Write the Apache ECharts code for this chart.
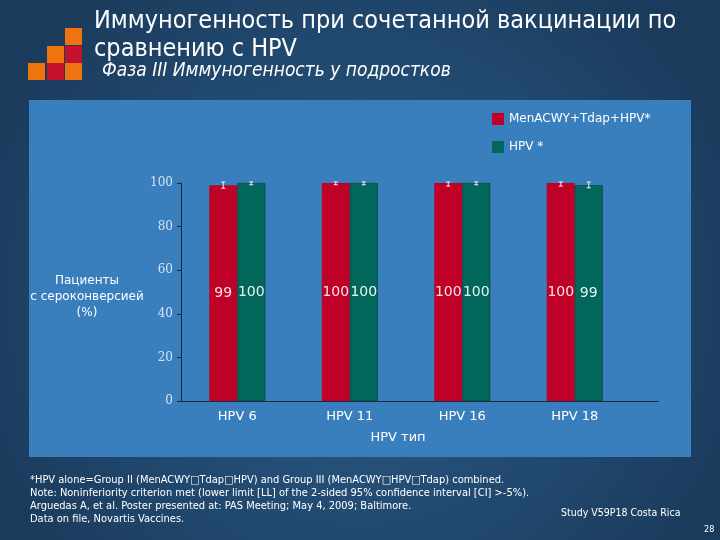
<!DOCTYPE html>
<html><head><meta charset="utf-8">
<script src="https://cdn.jsdelivr.net/npm/echarts@6/dist/echarts.min.js"></script>
<style>html,body{margin:0;padding:0;background:#1f4468}#c{width:720px;height:540px}</style>
</head><body><div id="c"></div>
<script>
const categories = ['HPV 6', 'HPV 11', 'HPV 16', 'HPV 18'];
const seriesNames = ['MenACWY+Tdap+HPV*', 'HPV *'];
const combined = [99, 100, 100, 100];
const hpvAlone = [100, 100, 100, 99];
const combinedLow = [97.6, 99.2, 98.6, 98.6];
const combinedHigh = [100, 100, 100, 100];
const hpvLow = [99.2, 99.2, 99.2, 97.8];
const hpvHigh = [100, 100, 100, 100];
const yTicks = [0, 20, 40, 60, 80, 100];

const titleFont = '"DejaVu Sans Condensed","DejaVu Sans",sans-serif';
const chart = echarts.init(document.getElementById('c'));

function errSeries(low, high, offset) {
  return {
    type: 'custom', z: 10, silent: true,
    data: low.map((l, i) => [i, l, high[i]]),
    renderItem: function (params, api) {
      const p1 = api.coord([api.value(0), api.value(1)]);
      const p2 = api.coord([api.value(0), api.value(2)]);
      const x = p1[0] + offset;
      const st = { stroke: '#f2f2f2', lineWidth: 1 };
      return { type: 'group', children: [
        { type: 'line', shape: { x1: x, y1: p1[1], x2: x, y2: p2[1] - 1 }, style: st },
        { type: 'line', shape: { x1: x - 2, y1: p1[1], x2: x + 2, y2: p1[1] }, style: st },
        { type: 'line', shape: { x1: x - 2, y1: p2[1] - 1, x2: x + 2, y2: p2[1] - 1 }, style: st }
      ]};
    }
  };
}

const sq = (x, y, c) => ({ type: 'rect', shape: { x: x, y: y, width: 17, height: 17 }, style: { fill: c } });
const ORG = '#ef7410', RED = '#c4122e';

chart.setOption({
  animation: false,
  backgroundColor: {
    type: 'radial', x: 0.5, y: 0.55, r: 0.75,
    colorStops: [{ offset: 0, color: '#2b5e8c' }, { offset: 1, color: '#1b3b5c' }]
  },
  graphic: [
    { type: 'rect', z: -10, shape: { x: 29, y: 100, width: 662, height: 357 }, style: { fill: '#3a7fbd' } },
    sq(65, 28, ORG), sq(47, 46, ORG), sq(65, 46, RED), sq(28, 63, ORG), sq(47, 63, RED), sq(65, 63, ORG),
    { type: 'text', left: 94, top: 7, style: { text: 'Иммуногенность при сочетанной вакцинации по\nсравнению с HPV', fill: '#ffffff', font: '25px ' + titleFont, lineHeight: 28 } },
    { type: 'text', left: 102, top: 62, style: { text: 'Фаза III Иммуногенность у подростков', fill: '#ffffff', font: 'italic 19px ' + titleFont } },
    { type: 'line', shape: { x1: 631, y1: 401.5, x2: 659, y2: 401.5 }, style: { stroke: '#1a2a40', lineWidth: 1 } },
    { type: 'text', x: 398, y: 438, style: { text: 'HPV тип', fill: '#ffffff', font: '13px "DejaVu Sans",sans-serif', align: 'center', verticalAlign: 'middle' } },
    { type: 'text', x: 87, y: 297, style: { text: 'Пациенты\nс сероконверсией\n(%)', fill: '#ffffff', font: '12px "DejaVu Sans",sans-serif', lineHeight: 16, align: 'center', verticalAlign: 'middle' } },
    { type: 'text', left: 30, top: 474, style: { text: '*HPV alone=Group II (MenACWY□Tdap□HPV) and Group III (MenACWY□HPV□Tdap) combined.\nNote: Noninferiority criterion met (lower limit [LL] of the 2-sided 95% confidence interval [CI] >-5%).\nArguedas A, et al. Poster presented at: PAS Meeting; May 4, 2009; Baltimore.\nData on file, Novartis Vaccines.', fill: '#ffffff', font: '11px ' + titleFont, lineHeight: 13 } },
    { type: 'text', left: 561, top: 508, style: { text: 'Study V59P18 Costa Rica', fill: '#ffffff', font: '10.5px ' + titleFont } },
    { type: 'text', left: 704, top: 525, style: { text: '28', fill: '#ffffff', font: '9px ' + titleFont } }
  ],
  legend: {
    orient: 'vertical', left: 487, top: 108, itemGap: 16, itemWidth: 12, itemHeight: 12,
    icon: 'rect', data: seriesNames, itemStyle: { borderWidth: 0 },
    textStyle: { color: '#ffffff', fontSize: 12, fontFamily: '"DejaVu Sans",sans-serif' }
  },
  grid: { left: 181, right: 89, top: 183, bottom: 139 },
  xAxis: {
    type: 'category', data: categories,
    axisLine: { lineStyle: { color: '#1a2a40', width: 1 } },
    axisTick: { show: false },
    axisLabel: { color: '#ffffff', fontSize: 13, margin: 9, fontFamily: '"DejaVu Sans",sans-serif' }
  },
  yAxis: {
    type: 'value', min: 0, max: 100, interval: 20,
    axisLine: { show: true, lineStyle: { color: '#1a2a40', width: 1 } },
    axisTick: { show: true, length: 4, lineStyle: { color: '#1a2a40' } },
    splitLine: { show: false },
    axisLabel: { color: '#d5e2ee', fontSize: 12, margin: 8, fontFamily: '"DejaVu Serif",serif',
      formatter: v => yTicks.includes(v) ? String(v) : '' }
  },
  series: [
    { name: seriesNames[0], type: 'bar', data: combined, barWidth: 28, barGap: '0%',
      itemStyle: { color: '#bf0027' },
      label: { show: true, position: 'inside', color: '#fbe0e6', fontSize: 14, fontFamily: '"DejaVu Sans",sans-serif' } },
    { name: seriesNames[1], type: 'bar', data: hpvAlone, barWidth: 28,
      itemStyle: { color: '#00675a', borderColor: '#0d3b3a', borderWidth: 0.6 },
      label: { show: true, position: 'inside', color: '#e8f4f2', fontSize: 14, fontFamily: '"DejaVu Sans",sans-serif' } },
    errSeries(combinedLow, combinedHigh, -14),
    errSeries(hpvLow, hpvHigh, 14)
  ]
});
</script></body></html>
